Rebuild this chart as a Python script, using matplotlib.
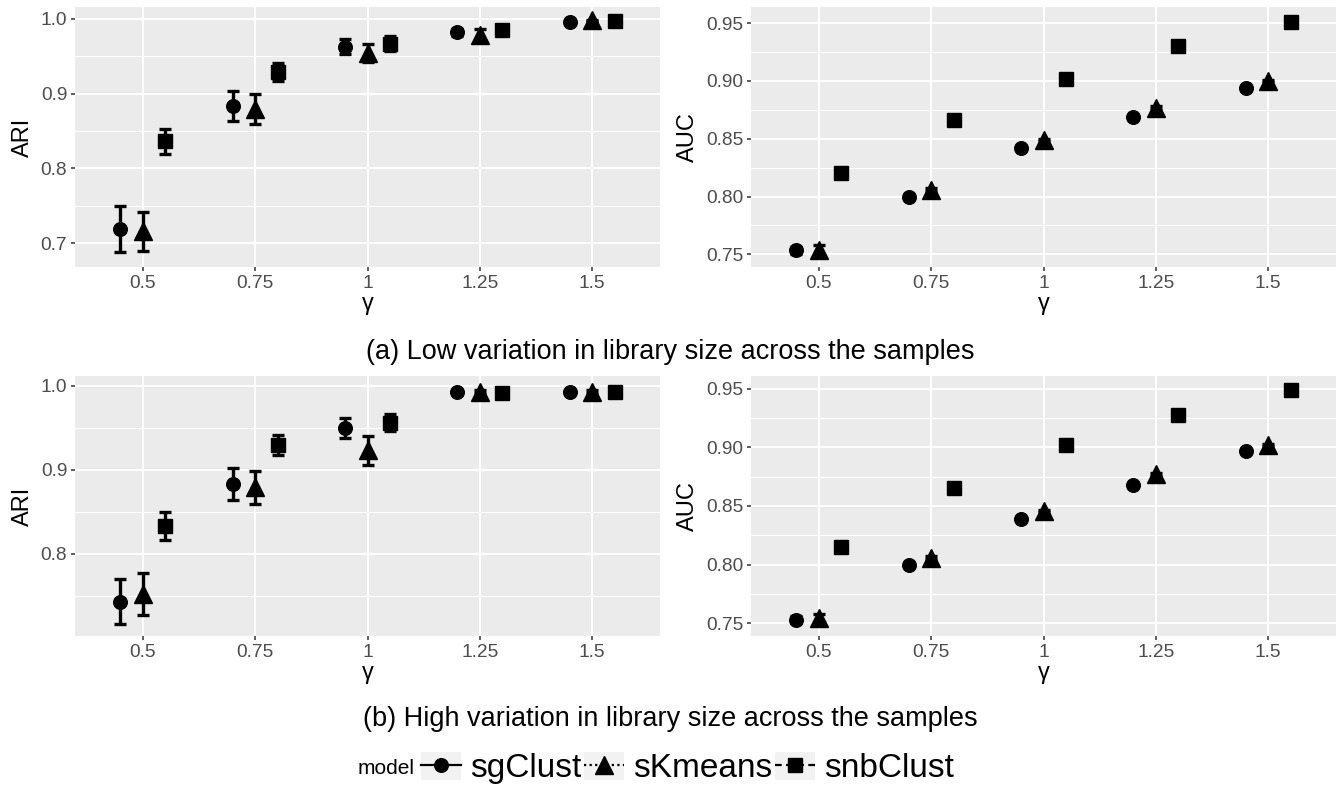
import matplotlib
matplotlib.use('Agg')
import matplotlib.pyplot as plt
import numpy as np
from matplotlib.lines import Line2D
from matplotlib.patches import Rectangle
from matplotlib.legend_handler import HandlerLine2D
from matplotlib.ticker import MultipleLocator, FixedLocator, FormatStrFormatter

plt.rcParams['font.family'] = ['Liberation Sans', 'DejaVu Sans']

gamma = [0.5, 0.75, 1.0, 1.25, 1.5]
gamma_labels = ['0.5', '0.75', '1', '1.25', '1.5']
models = ['sgClust', 'sKmeans', 'snbClust']

# (a) low variation in library size
ari_low_sg = [0.719, 0.883, 0.963, 0.982, 0.996]
ari_low_sg_err = [0.031, 0.020, 0.010, 0.005, 0.001]
ari_low_sk = [0.716, 0.879, 0.955, 0.979, 0.998]
ari_low_sk_err = [0.026, 0.020, 0.012, 0.008, 0.001]
ari_low_snb = [0.836, 0.929, 0.967, 0.985, 0.997]
ari_low_snb_err = [0.017, 0.012, 0.010, 0.003, 0.001]

auc_low_sg = [0.7535, 0.800, 0.842, 0.869, 0.894]
auc_low_sg_err = [0.003, 0.001, 0.001, 0.001, 0.001]
auc_low_sk = [0.754, 0.806, 0.849, 0.877, 0.900]
auc_low_sk_err = [0.004, 0.001, 0.001, 0.001, 0.001]
auc_low_snb = [0.820, 0.866, 0.902, 0.930, 0.951]
auc_low_snb_err = [0.001, 0.001, 0.001, 0.001, 0.001]

# (b) high variation in library size
ari_high_sg = [0.743, 0.883, 0.950, 0.992, 0.992]
ari_high_sg_err = [0.027, 0.019, 0.012, 0.002, 0.002]
ari_high_sk = [0.752, 0.879, 0.923, 0.993, 0.993]
ari_high_sk_err = [0.025, 0.020, 0.017, 0.002, 0.002]
ari_high_snb = [0.833, 0.929, 0.956, 0.991, 0.993]
ari_high_snb_err = [0.017, 0.012, 0.010, 0.002, 0.002]

auc_high_sg = [0.753, 0.800, 0.839, 0.868, 0.897]
auc_high_sg_err = [0.003, 0.001, 0.001, 0.001, 0.001]
auc_high_sk = [0.754, 0.806, 0.846, 0.877, 0.902]
auc_high_sk_err = [0.004, 0.001, 0.001, 0.001, 0.001]
auc_high_snb = [0.815, 0.865, 0.902, 0.928, 0.949]
auc_high_snb_err = [0.001, 0.001, 0.001, 0.001, 0.001]

offsets = [-0.05, 0.0, 0.05]
markers = ['o', '^', 's']
msizes = [9.8, 12.5, 10.5]
linestyles = ['-', (0, (1, 1.5)), (0, (3, 2))]

fig = plt.figure(figsize=(13.4, 7.9), dpi=100)
W, H = 1340, 790


def add_ax(x0, y0, x1, y1):
    return fig.add_axes([x0 / W, 1 - y1 / H, (x1 - x0) / W, (y1 - y0) / H])


def panel(ax, means, errs, ylabel, ylim, yticks, minor, fmt):
    ax.set_facecolor('#EBEBEB')
    for m in range(3):
        x = np.array(gamma) + offsets[m]
        ax.errorbar(x, means[m], yerr=errs[m], fmt='none', ecolor='black',
                    elinewidth=2.4, capsize=4.3, capthick=2.4, zorder=3)
        ax.plot(x, means[m], linestyle='none', marker=markers[m],
                ms=msizes[m], color='black', zorder=4)
    ax.set_xlim(0.349, 1.651)
    ax.set_ylim(*ylim)
    ax.set_xticks(gamma)
    ax.set_xticklabels(gamma_labels)
    ax.yaxis.set_major_locator(FixedLocator(yticks))
    ax.yaxis.set_minor_locator(MultipleLocator(minor))
    ax.yaxis.set_major_formatter(FormatStrFormatter(fmt))
    ax.grid(which='major', color='white', lw=1.4)
    ax.grid(which='minor', axis='y', color='white', lw=0.7)
    ax.set_axisbelow(True)
    for s in ax.spines.values():
        s.set_visible(False)
    ax.tick_params(which='major', length=3, width=1.1, color='#333333',
                   labelsize=13.8, labelcolor='#4D4D4D', pad=2.5)
    ax.tick_params(which='minor', length=0)
    ax.set_xlabel('γ', fontsize=17, labelpad=1)
    ax.set_ylabel(ylabel, fontsize=17, labelpad=5)


ax1 = add_ax(75, 7, 660, 267)
panel(ax1, [ari_low_sg, ari_low_sk, ari_low_snb],
      [ari_low_sg_err, ari_low_sk_err, ari_low_snb_err],
      'ARI', (0.668, 1.016), [0.7, 0.8, 0.9, 1.0], 0.05, '%.1f')
ax2 = add_ax(751, 7, 1336, 267)
panel(ax2, [auc_low_sg, auc_low_sk, auc_low_snb],
      [auc_low_sg_err, auc_low_sk_err, auc_low_snb_err],
      'AUC', (0.739, 0.964), [0.75, 0.80, 0.85, 0.90, 0.95], 0.025, '%.2f')
ax3 = add_ax(75, 376, 660, 636)
panel(ax3, [ari_high_sg, ari_high_sk, ari_high_snb],
      [ari_high_sg_err, ari_high_sk_err, ari_high_snb_err],
      'ARI', (0.702, 1.0115), [0.8, 0.9, 1.0], 0.05, '%.1f')
ax4 = add_ax(751, 376, 1336, 636)
panel(ax4, [auc_high_sg, auc_high_sk, auc_high_snb],
      [auc_high_sg_err, auc_high_sk_err, auc_high_snb_err],
      'AUC', (0.739, 0.961), [0.75, 0.80, 0.85, 0.90, 0.95], 0.025, '%.2f')

fig.text(0.5, 1 - 352 / H, '(a) Low variation in library size across the samples',
         ha='center', va='center', fontsize=19.5)
fig.text(0.5, 1 - 719 / H, '(b) High variation in library size across the samples',
         ha='center', va='center', fontsize=19.5)


class KeyWithBox(HandlerLine2D):
    # ggplot-like legend key: grey box behind line + marker
    def create_artists(self, legend, orig_handle, xdescent, ydescent,
                       width, height, fontsize, trans):
        arts = super().create_artists(legend, orig_handle, xdescent, ydescent,
                                      width, height, fontsize, trans)
        bg = Rectangle((-xdescent, -ydescent), width, height,
                       facecolor='#F2F2F2', edgecolor='none', transform=trans)
        return [bg] + arts


handles = [Line2D([], [], color='black', lw=1.6, linestyle=linestyles[m],
                  marker=markers[m], ms=msizes[m]) for m in range(3)]
leg = fig.legend(handles, models, loc='center', bbox_to_anchor=(0.513, 1 - 768 / H),
                 ncol=3, frameon=False, fontsize=24, handlelength=1.2,
                 handleheight=0.9, handletextpad=0.28, columnspacing=0.08,
                 borderpad=0, numpoints=1,
                 handler_map={Line2D: KeyWithBox()})

fig.canvas.draw()
bb = leg.get_window_extent()
fig.text((bb.x0 - 6) / W, 1 - 768 / H, 'model', ha='right', va='center', fontsize=15)

fig.savefig('out.png', dpi=100)
